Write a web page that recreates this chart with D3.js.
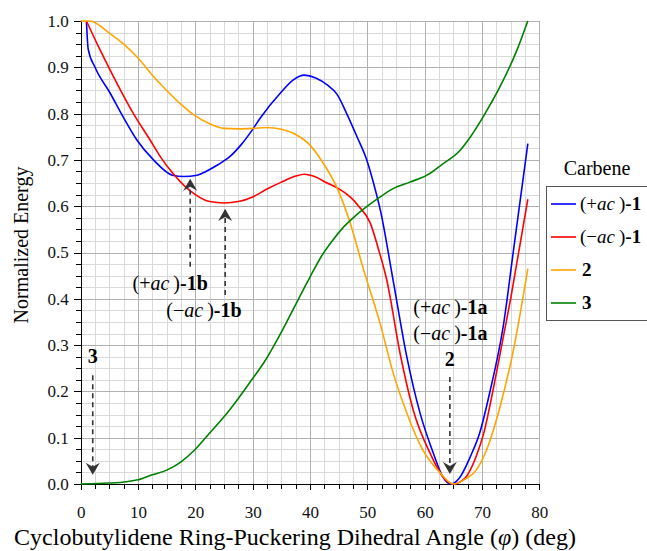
<!DOCTYPE html>
<meta charset="utf-8">
<style>
body { margin: 0; background: #fff; }
svg { font-family: "Liberation Serif", "Times New Roman", Times, serif; }
.grid-minor line { stroke: #d9d9d9; shape-rendering: crispEdges; }
.grid-major line { stroke: #b0b0b0; shape-rendering: crispEdges; }
.axis path, .axis line { stroke: #000; shape-rendering: crispEdges; }
.axis text { font-family: "Liberation Serif", "Times New Roman", serif; font-size: 17px; fill: #111; }
</style>
<body>
<script src="https://cdn.jsdelivr.net/npm/d3@7/dist/d3.min.js"></script>
<script>

// phi (deg) and normalized energy
const plusAcPhi = [1, 1.3, 2.5, 5.1, 7.4, 9.8, 12.7, 16, 18, 20.3, 22, 24, 26, 28, 30, 31.3, 34.8, 37.1, 39, 41, 43, 44.7, 46.4, 48.2, 49.9, 51.3, 52.3, 54.5, 56.9, 59.2, 61.5, 63.2, 64.5, 66, 68, 69.6, 71.4, 73.7, 75.5, 78];
const plusAcVal = [1.0, 0.94, 0.90, 0.845, 0.793, 0.743, 0.70, 0.667, 0.664, 0.667, 0.676, 0.69, 0.707, 0.733, 0.766, 0.79, 0.844, 0.873, 0.883, 0.877, 0.862, 0.842, 0.80, 0.75, 0.70, 0.64, 0.59, 0.44, 0.274, 0.153, 0.067, 0.015, 0.0, 0.012, 0.06, 0.11, 0.2, 0.34, 0.505, 0.735];

const minusAcPhi = [1, 3.4, 6.3, 9.2, 12.1, 14, 16, 18, 20, 22.5, 25, 27.5, 30, 32.5, 35, 37.5, 39, 41, 43, 45, 47, 48.5, 50.5, 52, 53.4, 55.7, 58, 61, 63.2, 65, 67, 69, 70.2, 72.6, 75, 78];
const minusAcVal = [1.0, 0.937, 0.866, 0.80, 0.743, 0.705, 0.672, 0.645, 0.625, 0.61, 0.607, 0.61, 0.62, 0.637, 0.652, 0.665, 0.669, 0.663, 0.65, 0.638, 0.62, 0.60, 0.564, 0.505, 0.44, 0.283, 0.16, 0.065, 0.015, 0.0, 0.012, 0.06, 0.105, 0.245, 0.40, 0.615];

const twoPhi = [0, 1.6, 5, 7.5, 10, 12.5, 15, 17.5, 20, 22.5, 25, 27.5, 30, 32.5, 35, 37.5, 40, 42.3, 44.7, 47, 49.2, 52.2, 54.5, 56.9, 59.7, 62.7, 65, 67, 69, 71, 73, 75.5, 78];
const twoVal = [1.0, 1.0, 0.974, 0.95, 0.92, 0.883, 0.85, 0.82, 0.795, 0.778, 0.768, 0.767, 0.768, 0.77, 0.766, 0.755, 0.732, 0.693, 0.64, 0.564, 0.469, 0.348, 0.24, 0.153, 0.073, 0.024, 0.0, 0.01, 0.03, 0.08, 0.16, 0.29, 0.465];

const threePhi = [0, 5, 8, 10, 12.5, 15, 17.5, 20, 22.5, 25, 27.2, 30, 32, 35, 38.8, 40, 42, 44, 46, 48, 50, 52, 54.5, 57.4, 60.4, 63, 66.2, 68, 70.2, 73.1, 76.1, 78];
const threeVal = [0.0, 0.002, 0.005, 0.009, 0.02, 0.03, 0.048, 0.075, 0.11, 0.145, 0.18, 0.228, 0.263, 0.328, 0.419, 0.447, 0.492, 0.527, 0.557, 0.58, 0.6, 0.618, 0.638, 0.652, 0.667, 0.69, 0.721, 0.75, 0.793, 0.857, 0.937, 1.0];

const seriesNames = ["(+ac)-1", "(−ac)-1", "2", "3"];
const seriesColors = ["#0000ff", "#ff0000", "#ffa500", "#008000"];

const xTicks = [0, 10, 20, 30, 40, 50, 60, 70, 80];
const yTicks = [0, 0.1, 0.2, 0.3, 0.4, 0.5, 0.6, 0.7, 0.8, 0.9, 1.0];

// annotation arrows: phi, tail value, tip value
const arrowPhi = [2.1, 19.1, 25.2, 64.4];
const arrowFrom = [0.235, 0.469, 0.408, 0.231];
const arrowTo = [0.022, 0.657, 0.592, 0.024];

const W = 647, H = 551;
const plot = { left: 80.7, right: 539.3, top: 21, bottom: 484 };

const x = d3.scaleLinear().domain([0, 80]).range([plot.left, plot.right]);
const y = d3.scaleLinear().domain([0, 1]).range([plot.bottom, plot.top]);

const svg = d3.select("body").append("svg")
   .attr("width", W)
   .attr("height", H);

const minorX = d3.range(0, 80.001, 2.5);
const minorY = d3.range(0, 1.0001, 0.025);

// gridlines
svg.append("g").attr("class", "grid-minor")
   .selectAll("line.v").data(minorX).join("line")
   .attr("x1", d => Math.round(x(d)) + 0.5).attr("x2", d => Math.round(x(d)) + 0.5)
   .attr("y1", plot.top).attr("y2", plot.bottom);
svg.append("g").attr("class", "grid-minor")
   .selectAll("line.h").data(minorY).join("line")
   .attr("y1", d => Math.round(y(d)) + 0.5).attr("y2", d => Math.round(y(d)) + 0.5)
   .attr("x1", plot.left).attr("x2", plot.right);
svg.append("g").attr("class", "grid-major")
   .selectAll("line").data(xTicks).join("line")
   .attr("x1", d => Math.round(x(d)) + 0.5).attr("x2", d => Math.round(x(d)) + 0.5)
   .attr("y1", plot.top).attr("y2", plot.bottom);
svg.append("g").attr("class", "grid-major")
   .selectAll("line").data(yTicks).join("line")
   .attr("y1", d => Math.round(y(d)) + 0.5).attr("y2", d => Math.round(y(d)) + 0.5)
   .attr("x1", plot.left).attr("x2", plot.right);

// axes
svg.append("g").attr("class", "axis")
   .attr("transform", `translate(0,${plot.bottom})`)
   .call(d3.axisBottom(x).tickValues(minorX).tickSize(5).tickFormat(""));
svg.append("g").attr("class", "axis")
   .attr("transform", `translate(0,${plot.bottom})`)
   .call(d3.axisBottom(x).tickValues(xTicks).tickSize(6).tickPadding(16).tickFormat(d3.format("d")));
svg.append("g").attr("class", "axis")
   .attr("transform", `translate(${plot.left},0)`)
   .call(d3.axisLeft(y).tickValues(minorY).tickSize(5).tickFormat(""));
svg.append("g").attr("class", "axis")
   .attr("transform", `translate(${plot.left},0)`)
   .call(d3.axisLeft(y).tickValues(yTicks).tickSize(7).tickPadding(5).tickFormat(d3.format(".1f")));

// curves
const line = d3.line()
   .x(d => x(d[0]))
   .y(d => y(d[1]))
   .curve(d3.curveMonotoneX);

const series = [
   d3.zip(plusAcPhi, plusAcVal),
   d3.zip(minusAcPhi, minusAcVal),
   d3.zip(twoPhi, twoVal),
   d3.zip(threePhi, threeVal)
];

svg.append("g")
   .selectAll("path")
   .data(series)
   .join("path")
   .attr("d", d => line(d))
   .attr("fill", "none")
   .attr("stroke", (d, i) => seriesColors[i])
   .attr("stroke-width", 1.6);

// axis titles
svg.append("text")
   .attr("x", 295).attr("y", 545)
   .attr("text-anchor", "middle")
   .style("font-size", "24px")
   .call(t => {
      t.append("tspan").text("Cyclobutylidene Ring-Puckering Dihedral Angle (");
      t.append("tspan").style("font-style", "italic").text("φ");
      t.append("tspan").text(")  (deg)");
   });

svg.append("text")
   .attr("transform", "translate(28,245) rotate(-90)")
   .attr("text-anchor", "middle")
   .style("font-size", "20px")
   .text("Normalized Energy");

// arrows
const defs = svg.append("defs");
defs.append("marker")
   .attr("id", "arrowhead")
   .attr("viewBox", "0 0 12 16")
   .attr("refX", 11).attr("refY", 8)
   .attr("markerWidth", 12).attr("markerHeight", 16)
   .attr("markerUnits", "userSpaceOnUse")
   .attr("orient", "auto")
   .append("path")
   .attr("d", "M0,1 L12,8 L0,15 L4,8 Z")
   .attr("fill", "#333");

svg.append("g")
   .selectAll("line")
   .data(arrowPhi)
   .join("line")
   .attr("x1", d => x(d)).attr("x2", d => x(d))
   .attr("y1", (d, i) => y(arrowFrom[i]))
   .attr("y2", (d, i) => y(arrowTo[i]))
   .attr("stroke", "#333")
   .attr("stroke-width", 1.6)
   .attr("stroke-dasharray", "5,4")
   .attr("marker-end", "url(#arrowhead)");

// annotation labels
function isomerLabel(g, sign, suffix) {
   g.append("tspan").text("(" + sign);
   g.append("tspan").style("font-style", "italic").text("ac");
   g.append("tspan").attr("dx", 4).text(")");
   g.append("tspan").style("font-weight", "bold").text("-" + suffix);
}

const labelSize = "20px";
svg.append("text").attr("x", x(2.1)).attr("y", y(0.262))
   .attr("text-anchor", "middle").style("font-size", labelSize).style("font-weight", "bold").text("3");
svg.append("text").attr("x", x(15.6)).attr("y", y(0.418))
   .attr("text-anchor", "middle").style("font-size", labelSize)
   .call(t => isomerLabel(t, "+", "1b"));
svg.append("text").attr("x", x(21.5)).attr("y", y(0.36))
   .attr("text-anchor", "middle").style("font-size", labelSize)
   .call(t => isomerLabel(t, "−", "1b"));
svg.append("text").attr("x", x(64.5)).attr("y", y(0.368))
   .attr("text-anchor", "middle").style("font-size", labelSize)
   .call(t => isomerLabel(t, "+", "1a"));
svg.append("text").attr("x", x(64.5)).attr("y", y(0.31))
   .attr("text-anchor", "middle").style("font-size", labelSize)
   .call(t => isomerLabel(t, "−", "1a"));
svg.append("text").attr("x", x(64.4)).attr("y", y(0.255))
   .attr("text-anchor", "middle").style("font-size", labelSize).style("font-weight", "bold").text("2");

// legend
svg.append("text")
   .attr("x", 597).attr("y", 175)
   .attr("text-anchor", "middle")
   .style("font-size", "20px")
   .text("Carbene");

svg.append("rect")
   .attr("x", 546.5).attr("y", 186.5)
   .attr("width", 120).attr("height", 134)
   .attr("fill", "#fff")
   .attr("stroke", "#555")
   .attr("stroke-width", 1);

const legend = svg.append("g")
   .selectAll("g")
   .data(seriesNames)
   .join("g")
   .attr("transform", (d, i) => `translate(551,${204 + i * 33})`);

legend.append("line")
   .attr("x1", 0).attr("x2", 25)
   .attr("stroke", (d, i) => seriesColors[i])
   .attr("stroke-width", 1.6);

legend.append("text")
   .attr("x", 29).attr("y", 6)
   .style("font-size", "19px")
   .each(function(d, i) {
      const t = d3.select(this);
      if (i < 2) {
         isomerLabel(t, i === 0 ? "+" : "−", "1");
      } else {
         t.attr("x", 31).style("font-weight", "bold").text(d);
      }
   });

</script>
</body>
